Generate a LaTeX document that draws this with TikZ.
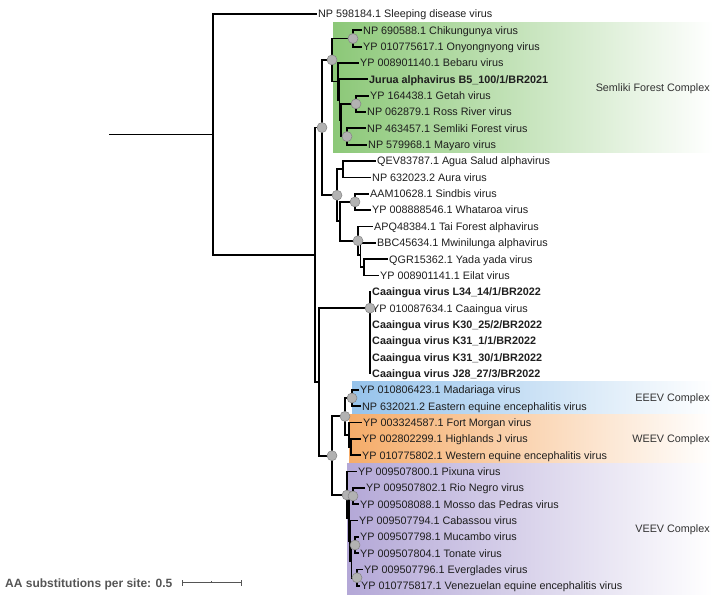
\documentclass[tikz,border=0pt]{standalone}
\usepackage{fontspec}
\setmainfont{Liberation Sans}
\definecolor{semgreen}{RGB}{140,200,120}
\definecolor{eeevblue}{RGB}{150,195,235}
\definecolor{weevorange}{RGB}{245,172,105}
\definecolor{veevpurple}{RGB}{180,168,215}
\definecolor{dotgray}{RGB}{178,178,178}
\definecolor{dotedge}{RGB}{130,130,130}
\definecolor{txt}{RGB}{30,30,30}
\definecolor{cplxtxt}{RGB}{50,50,50}
\definecolor{scalegray}{RGB}{85,85,85}
\begin{document}
\begin{tikzpicture}[x=1pt,y=-16.34pt,
  br/.style={line width=1.8pt, line cap=rect, black},
  tiplab/.style={anchor=west, inner sep=0pt, xshift=2pt, text=txt, font=\fontsize{10.8}{12}\selectfont, text height=7.8pt, text depth=0pt},
  boldlab/.style={tiplab, font=\fontsize{10.8}{12}\selectfont\bfseries},
  cplx/.style={anchor=east, inner sep=0pt, text=cplxtxt, font=\fontsize{10.8}{12}\selectfont, text height=7.8pt, text depth=0pt},
  bootdot/.style={circle, fill=dotgray, draw=dotedge, line width=0.5pt, minimum size=10pt, inner sep=0pt},
  scalebar/.style={draw=scalegray, line width=1pt}]
\useasboundingbox (0,-0.8568) rectangle (713,35.557);
% complex backgrounds
\shade[left color=semgreen, right color=white] (333,0.5) rectangle (713,8.5);
\shade[left color=eeevblue, right color=white] (352,22.5) rectangle (713,24.5);
\shade[left color=weevorange, right color=white] (349,24.5) rectangle (713,27.5);
\shade[left color=veevpurple, right color=white] (347,27.5) rectangle (713,35.5);
\node[cplx] (cx1) at (710,4.5) {Semliki Forest Complex};
\node[cplx] (cx2) at (710,23.5) {EEEV Complex};
\node[cplx] (cx3) at (710,26) {WEEV Complex};
\node[cplx] (cx4) at (710,31.5) {VEEV Complex};
% internal nodes
\coordinate (R0) at (110,7.37);
\coordinate (R) at (213,7.37);
\coordinate (A) at (315,14.73);
\coordinate (B) at (322,6.95);
\coordinate (S) at (332,2.81);
\coordinate (CO) at (353,1.5);
\coordinate (S2) at (338,4.125);
\coordinate (S3) at (339.5,5.25);
\coordinate (S4) at (341,6.5);
\coordinate (GR) at (356,5.5);
\coordinate (SM) at (347,7.5);
\coordinate (G) at (337,11.09);
\coordinate (AA) at (343,9.5);
\coordinate (H) at (340,12.69);
\coordinate (SW) at (355,11.5);
\coordinate (T1) at (358,13.875);
\coordinate (T2) at (360.5,14.75);
\coordinate (T3) at (364,15.5);
\coordinate (C) at (319,22.52);
\coordinate (CA) at (370,18);
\coordinate (D) at (332,27.03);
\coordinate (E) at (345,24.625);
\coordinate (EE) at (352,23.5);
\coordinate (W) at (349,25.75);
\coordinate (W2) at (351,26.5);
\coordinate (V) at (347,29.44);
\coordinate (X) at (349,30.875);
\coordinate (RNM) at (353,29.5);
\coordinate (Y) at (350,32.25);
\coordinate (Z) at (351.5,33.5);
\coordinate (MT) at (355,32.5);
\coordinate (EV) at (357,34.5);
% tips
\coordinate (t0) at (316,0);
\coordinate (t1) at (361,1);
\coordinate (t2) at (361,2);
\coordinate (t3) at (358,3);
\coordinate (t4) at (367,4);
\coordinate (t5) at (368,5);
\coordinate (t6) at (365,6);
\coordinate (t7) at (365,7);
\coordinate (t8) at (366,8);
\coordinate (t9) at (375,9);
\coordinate (t10) at (370,10);
\coordinate (t11) at (368,11);
\coordinate (t12) at (370,12);
\coordinate (t13) at (372,13);
\coordinate (t14) at (375,14);
\coordinate (t15) at (387,15);
\coordinate (t16) at (378,16);
\coordinate (t17) at (370,17);
\coordinate (t18) at (370,18);
\coordinate (t19) at (370,19);
\coordinate (t20) at (370,20);
\coordinate (t21) at (370,21);
\coordinate (t22) at (370,22);
\coordinate (t23) at (358,23);
\coordinate (t24) at (360,24);
\coordinate (t25) at (361,25);
\coordinate (t26) at (360,26);
\coordinate (t27) at (360,27);
\coordinate (t28) at (356,28);
\coordinate (t29) at (364,29);
\coordinate (t30) at (358,30);
\coordinate (t31) at (357,31);
\coordinate (t32) at (358,32);
\coordinate (t33) at (358,33);
\coordinate (t34) at (362,34);
\coordinate (t35) at (359,35);
% branches
\draw[br] (R0) -- (R);
\draw[br] (R) |- (t0);
\draw[br] (R) |- (A);
\draw[br] (A) |- (B);
\draw[br] (A) |- (C);
\draw[br] (B) |- (S);
\draw[br] (B) |- (G);
\draw[br] (S) |- (CO);
\draw[br] (S) |- (S2);
\draw[br] (CO) |- (t1);
\draw[br] (CO) |- (t2);
\draw[br] (S2) |- (t3);
\draw[br] (S2) |- (S3);
\draw[br] (S3) |- (t4);
\draw[br] (S3) |- (S4);
\draw[br] (S4) |- (GR);
\draw[br] (S4) |- (SM);
\draw[br] (GR) |- (t5);
\draw[br] (GR) |- (t6);
\draw[br] (SM) |- (t7);
\draw[br] (SM) |- (t8);
\draw[br] (G) |- (AA);
\draw[br] (G) |- (H);
\draw[br] (AA) |- (t9);
\draw[br] (AA) |- (t10);
\draw[br] (H) |- (SW);
\draw[br] (H) |- (T1);
\draw[br] (SW) |- (t11);
\draw[br] (SW) |- (t12);
\draw[br] (T1) |- (t13);
\draw[br] (T1) |- (T2);
\draw[br] (T2) |- (t14);
\draw[br] (T2) |- (T3);
\draw[br] (T3) |- (t15);
\draw[br] (T3) |- (t16);
\draw[br] (C) |- (CA);
\draw[br] (C) |- (D);
\foreach \i in {17,...,22} {\draw[br] (CA) |- (t\i);}
\draw[br] (D) |- (E);
\draw[br] (D) |- (V);
\draw[br] (E) |- (EE);
\draw[br] (E) |- (W);
\draw[br] (EE) |- (t23);
\draw[br] (EE) |- (t24);
\draw[br] (W) |- (t25);
\draw[br] (W) |- (W2);
\draw[br] (W2) |- (t26);
\draw[br] (W2) |- (t27);
\draw[br] (V) |- (t28);
\draw[br] (V) |- (X);
\draw[br] (X) |- (RNM);
\draw[br] (X) |- (Y);
\draw[br] (RNM) |- (t29);
\draw[br] (RNM) |- (t30);
\draw[br] (Y) |- (t31);
\draw[br] (Y) |- (Z);
\draw[br] (Z) |- (MT);
\draw[br] (Z) |- (EV);
\draw[br] (MT) |- (t32);
\draw[br] (MT) |- (t33);
\draw[br] (EV) |- (t34);
\draw[br] (EV) |- (t35);
% labels
\node[tiplab] (l0) at (t0) {NP 598184.1 Sleeping disease virus};
\node[tiplab] (l1) at (t1) {NP 690588.1 Chikungunya virus};
\node[tiplab] (l2) at (t2) {YP 010775617.1 Onyongnyong virus};
\node[tiplab] (l3) at (t3) {YP 008901140.1 Bebaru virus};
\node[boldlab] (l4) at (t4) {Jurua alphavirus B5\_100/1/BR2021};
\node[tiplab] (l5) at (t5) {YP 164438.1 Getah virus};
\node[tiplab] (l6) at (t6) {NP 062879.1 Ross River virus};
\node[tiplab] (l7) at (t7) {NP 463457.1 Semliki Forest virus};
\node[tiplab] (l8) at (t8) {NP 579968.1 Mayaro virus};
\node[tiplab] (l9) at (t9) {QEV83787.1 Agua Salud alphavirus};
\node[tiplab] (l10) at (t10) {NP 632023.2 Aura virus};
\node[tiplab] (l11) at (t11) {AAM10628.1 Sindbis virus};
\node[tiplab] (l12) at (t12) {YP 008888546.1 Whataroa virus};
\node[tiplab] (l13) at (t13) {APQ48384.1 Tai Forest alphavirus};
\node[tiplab] (l14) at (t14) {BBC45634.1 Mwinilunga alphavirus};
\node[tiplab] (l15) at (t15) {QGR15362.1 Yada yada virus};
\node[tiplab] (l16) at (t16) {YP 008901141.1 Eilat virus};
\node[boldlab] (l17) at (t17) {Caaingua virus L34\_14/1/BR2022};
\node[tiplab] (l18) at (t18) {YP 010087634.1 Caaingua virus};
\node[boldlab] (l19) at (t19) {Caaingua virus K30\_25/2/BR2022};
\node[boldlab] (l20) at (t20) {Caaingua virus K31\_1/1/BR2022};
\node[boldlab] (l21) at (t21) {Caaingua virus K31\_30/1/BR2022};
\node[boldlab] (l22) at (t22) {Caaingua virus J28\_27/3/BR2022};
\node[tiplab] (l23) at (t23) {YP 010806423.1 Madariaga virus};
\node[tiplab] (l24) at (t24) {NP 632021.2 Eastern equine encephalitis virus};
\node[tiplab] (l25) at (t25) {YP 003324587.1 Fort Morgan virus};
\node[tiplab] (l26) at (t26) {YP 002802299.1 Highlands J virus};
\node[tiplab] (l27) at (t27) {YP 010775802.1 Western equine encephalitis virus};
\node[tiplab] (l28) at (t28) {YP 009507800.1 Pixuna virus};
\node[tiplab] (l29) at (t29) {YP 009507802.1 Rio Negro virus};
\node[tiplab] (l30) at (t30) {YP 009508088.1 Mosso das Pedras virus};
\node[tiplab] (l31) at (t31) {YP 009507794.1 Cabassou virus};
\node[tiplab] (l32) at (t32) {YP 009507798.1 Mucambo virus};
\node[tiplab] (l33) at (t33) {YP 009507804.1 Tonate virus};
\node[tiplab] (l34) at (t34) {YP 009507796.1 Everglades virus};
\node[tiplab] (l35) at (t35) {YP 010775817.1 Venezuelan equine encephalitis virus};
% support dots
\foreach \n in {B,S,CO,GR,SM,G,SW,T1,CA,D,E,EE,V,RNM,MT,EV} {\node[bootdot] (dot\n) at (\n) {};}
% scale bar
\coordinate (sb1) at (182,34.82);
\coordinate (sb2) at (241,34.82);
\coordinate (sbm) at (211.5,34.82);
\draw[scalebar] (sb1) -- (sb2);
\draw[scalebar] ([yshift=-3pt]sb1) -- ([yshift=3pt]sb1);
\draw[scalebar] ([yshift=-3pt]sb2) -- ([yshift=3pt]sb2);
\draw[scalebar] (sbm) -- ([yshift=1.5pt]sbm);
\node[anchor=west, inner sep=0pt, text=scalegray, font=\fontsize{12}{14}\selectfont\bfseries, text height=8.6pt, text depth=0pt] (sblab) at (5,34.82) {AA substitutions per site: 0.5};
\end{tikzpicture}
\end{document}
